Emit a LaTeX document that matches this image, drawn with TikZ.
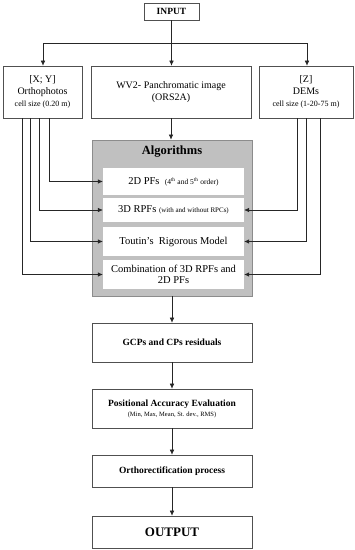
\documentclass[tikz,border=0pt]{standalone}
\usepackage{fontspec}
\setmainfont{Liberation Serif}
\usetikzlibrary{arrows.meta}
\definecolor{algfill}{HTML}{C0C0C0}
\definecolor{algedge}{HTML}{8C8C8C}
\definecolor{boxedge}{HTML}{505050}
\tikzset{
  box/.style={draw=boxedge, line width=0.6pt, fill=white, align=center, inner sep=1pt},
  inbox/.style={fill=white, align=center, inner sep=1pt, minimum width=141pt},
  conn/.style={line width=0.55pt, draw=black!85},
  arr/.style={conn, -{Latex[length=5pt,width=4.5pt]}},
}
\begin{document}
\begin{tikzpicture}[x=1pt,y=-1pt]
\useasboundingbox (0,0) rectangle (355,550);
\fill[white] (0,0) rectangle (355,550);
% top
\node[box, minimum width=55pt, minimum height=17pt, font=\fontsize{9.5}{11}\selectfont\bfseries] (input) at (171.5,11.5) {INPUT};
\node[box, minimum width=79pt, minimum height=52pt, font=\fontsize{10}{12}\selectfont] (ortho) at (42.5,92) {[X; Y]\\Orthophotos\\{\fontsize{8}{11}\selectfont cell size (0.20 m)}};
\node[box, minimum width=160pt, minimum height=52pt, font=\fontsize{10}{12.5}\selectfont] (wv2) at (171,92) {WV2- Panchromatic image\\(ORS2A)};
\node[box, minimum width=94pt, minimum height=52pt, font=\fontsize{10}{12}\selectfont] (dem) at (306,92) {[Z]\\DEMs\\{\fontsize{8}{11}\selectfont cell size (1-20-75 m)}};
% algorithms
\node[draw=algedge, fill=algfill, line width=0.8pt, minimum width=160pt, minimum height=156pt] (alg) at (172,218) {};
\node[font=\fontsize{12.5}{14}\selectfont\bfseries, inner sep=0pt] (algt) at (172,152) {Algorithms};
\node[inbox, minimum height=27pt, font=\fontsize{10.5}{12}\selectfont] (b1) at (173.5,181.5) {2D PFs~~{\fontsize{7.5}{9}\selectfont(4\textsuperscript{th} and 5\textsuperscript{th} order)}};
\node[inbox, minimum height=24pt, font=\fontsize{10.5}{12}\selectfont] (b2) at (173.5,210) {3D RPFs {\fontsize{7}{8}\selectfont(with and without RPCs)}};
\node[inbox, minimum height=29pt, font=\fontsize{10.5}{12}\selectfont] (b3) at (173.5,241.5) {Toutin's~~Rigorous Model};
\node[inbox, minimum height=29pt, font=\fontsize{10.5}{11.5}\selectfont] (b4) at (173.5,274.5) {Combination of 3D RPFs and\\2D PFs};
% lower chain
\node[box, minimum width=160pt, minimum height=39pt, font=\fontsize{9.5}{11}\selectfont\bfseries] (gcp) at (172,342.5) {GCPs and CPs residuals};
\node[box, minimum width=160pt, minimum height=39pt, font=\fontsize{9.5}{10}\selectfont\bfseries] (pae) at (172,408.5) {Positional Accuracy Evaluation\\{\fontsize{6.5}{7.5}\selectfont\mdseries (Min, Max, Mean, St. dev., RMS)}};
\node[box, minimum width=160pt, minimum height=32pt, font=\fontsize{9.5}{11}\selectfont\bfseries] (orp) at (172,471) {Orthorectification process};
\node[box, minimum width=160pt, minimum height=32pt, font=\fontsize{13}{15}\selectfont\bfseries] (out) at (172,532) {OUTPUT};
% coordinates
\coordinate (hl) at (43,43);
\coordinate (hr) at (307,43);
\coordinate (l1) at (49,0);
\coordinate (l2) at (39,0);
\coordinate (l3) at (30,0);
\coordinate (l4) at (22,0);
\coordinate (r2) at (297,0);
\coordinate (r3) at (306,0);
\coordinate (r4) at (320,0);
% connectors
\draw[conn] (hl) -- (hr);
\draw[arr] (input.south) -- (input.south |- wv2.north);
\draw[arr] (hl) -- (hl |- ortho.north);
\draw[arr] (hr) -- (hr |- dem.north);
\draw[arr] (wv2.south) -- (wv2.south |- alg.north);
\draw[arr] (ortho.south -| l1) |- (b1.west);
\draw[arr] (ortho.south -| l2) |- (b2.west);
\draw[arr] (ortho.south -| l3) |- (b3.west);
\draw[arr] (ortho.south -| l4) |- (b4.west);
\draw[arr] (dem.south -| r2) |- (b2.east);
\draw[arr] (dem.south -| r3) |- (b3.east);
\draw[arr] (dem.south -| r4) |- (b4.east);
\draw[arr] (alg.south) -- (gcp.north);
\draw[arr] (gcp.south) -- (pae.north);
\draw[arr] (pae.south) -- (orp.north);
\draw[arr] (orp.south) -- (out.north);
\end{tikzpicture}
\end{document}
